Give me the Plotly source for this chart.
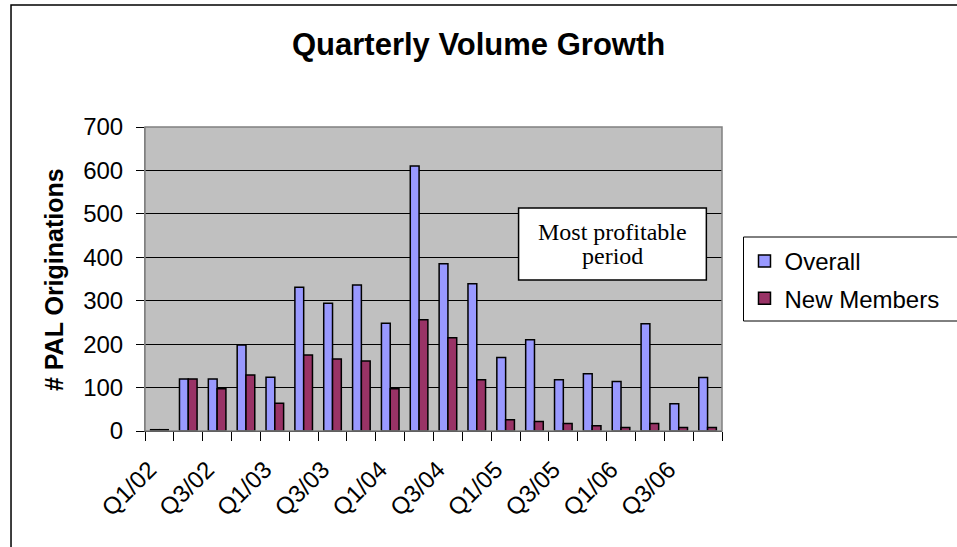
import plotly.graph_objects as go

# ---- data ----
quarters = ["Q1/02", "Q2/02", "Q3/02", "Q4/02", "Q1/03", "Q2/03", "Q3/03", "Q4/03",
            "Q1/04", "Q2/04", "Q3/04", "Q4/04", "Q1/05", "Q2/05", "Q3/05", "Q4/05",
            "Q1/06", "Q2/06", "Q3/06", "Q4/06"]
tick_labels = ["Q1/02", "", "Q3/02", "", "Q1/03", "", "Q3/03", "",
               "Q1/04", "", "Q3/04", "", "Q1/05", "", "Q3/05", "",
               "Q1/06", "", "Q3/06", ""]
overall = [3, 120, 120, 198, 124, 331, 294, 336, 248, 610, 385, 339, 169, 210,
           118, 132, 114, 247, 63, 123]
new_members = [3, 120, 97, 129, 64, 175, 166, 161, 97, 256, 215, 118, 26, 22,
               17, 12, 8, 17, 8, 8]
y_ticks = [0, 100, 200, 300, 400, 500, 600, 700]

W, H = 957, 547
L, R, T, B = 145, 735, 127, 431


def px(x):
    return (x - L) / (R - L)


def py(y):
    return (B - y) / (B - T)


FONT = "Liberation Sans, Arial, sans-serif"

fig = go.Figure()
fig.add_trace(go.Bar(x=quarters, y=overall, name="Overall", legendgroup="a",
                     marker=dict(color="#9999FF", line=dict(color="black", width=1.5))))
fig.add_trace(go.Bar(x=quarters, y=new_members, name="New Members", legendgroup="b",
                     marker=dict(color="#993366", line=dict(color="black", width=1.5))))

shapes = [
    # outer chart border
    dict(type="rect", xref="paper", yref="paper", x0=px(8), x1=px(990), y0=py(5), y1=py(580),
         line=dict(color="black", width=1.5), fillcolor="rgba(0,0,0,0)", layer="above"),
    # plot area border
    dict(type="rect", xref="paper", yref="paper", x0=0, x1=1, y0=0, y1=1,
         line=dict(color="#808080", width=1.5), fillcolor="rgba(0,0,0,0)", layer="above"),
    # legend border
    dict(type="rect", xref="paper", yref="paper", x0=px(757), x1=px(990), y0=py(237), y1=py(321),
         line=dict(color="black", width=1), fillcolor="white", layer="above"),
    # annotation box
    dict(type="rect", xref="paper", yref="paper", x0=px(527), x1=px(719), y0=py(208), y1=py(280),
         line=dict(color="black", width=1.5), fillcolor="white", layer="above"),
]

annotations = [
    dict(text="<b>Quarterly Volume Growth</b>", xref="paper", yref="paper",
         x=px(486), y=py(44), xanchor="center", yanchor="middle", showarrow=False,
         font=dict(family=FONT, size=31, color="black")),
    dict(text="<b># PAL Originations</b>", xref="paper", yref="paper",
         x=px(52), y=py(280), xanchor="center", yanchor="middle", textangle=-90,
         showarrow=False, font=dict(family=FONT, size=25, color="black")),
    dict(text="Most profitable", xref="paper", yref="paper",
         x=px(623), y=py(232), xanchor="center", yanchor="middle", showarrow=False,
         font=dict(family="Liberation Serif, Times New Roman, serif", size=24, color="black")),
    dict(text="period", xref="paper", yref="paper",
         x=px(623), y=py(256), xanchor="center", yanchor="middle", showarrow=False,
         font=dict(family="Liberation Serif, Times New Roman, serif", size=24, color="black")),
    # white cover mimicking the clipped text box
    dict(text=" ", xref="paper", yref="paper", x=px(529), y=py(268.5),
         xanchor="left", yanchor="top", showarrow=False, width=182, height=10,
         bgcolor="white", borderpad=0, borderwidth=0,
         font=dict(size=6)),
]

fig.update_layout(
    width=W, height=H,
    margin=dict(l=L, r=W - R, t=T, b=H - B, pad=0),
    paper_bgcolor="white", plot_bgcolor="#C0C0C0",
    barmode="group", bargap=0.39, bargroupgap=0,
    showlegend=True,
    legend=dict(x=px(758), y=py(239), xanchor="left", yanchor="top",
                bgcolor="rgba(0,0,0,0)", borderwidth=0,
                font=dict(family=FONT, size=24, color="black"),
                traceorder="grouped", tracegroupgap=3),
    shapes=shapes, annotations=annotations,
    xaxis=dict(type="category", tickmode="array", tickvals=quarters, ticktext=tick_labels,
               tickson="boundaries", ticks="outside", ticklen=9, tickcolor="black",
               tickwidth=1, tickangle=-45, tickfont=dict(family=FONT, size=24, color="black"),
               ticklabelshift=-10, ticklabelstandoff=14,
               showline=True, linecolor="black", linewidth=1, showgrid=False),
    yaxis=dict(range=[0, 700], tickmode="array", tickvals=y_ticks,
               ticks="outside", ticklen=8, tickcolor="black", tickwidth=1,
               tickfont=dict(family=FONT, size=24, color="black"),
               ticklabelstandoff=8,
               showgrid=True, gridcolor="black", gridwidth=1, zeroline=False,
               showline=True, linecolor="#808080", linewidth=1),
    font=dict(family=FONT, color="black"),
)

fig.write_html("out.html", config={"displayModeBar": False},
               post_script="document.body.style.margin='0';")
